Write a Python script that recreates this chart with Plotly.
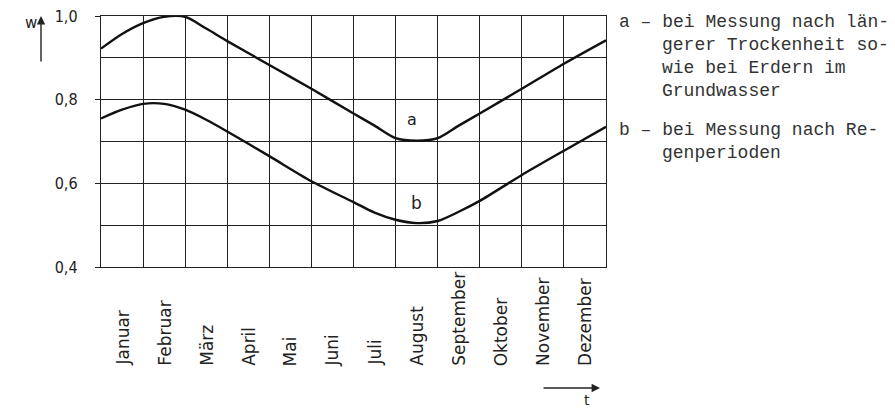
import plotly.graph_objects as go

# ---------------- data ----------------
months = ["Januar", "Februar", "März", "April", "Mai", "Juni", "Juli",
          "August", "September", "Oktober", "November", "Dezember"]

t_a = [0, 0.5, 1, 1.5, 2, 2.5, 3, 4, 5, 6, 6.5, 7, 7.5, 8, 8.5, 9, 10, 11, 12]
w_a = [0.922, 0.957, 0.983, 0.998, 0.998, 0.97, 0.94, 0.883, 0.826, 0.767,
       0.738, 0.708, 0.702, 0.708, 0.738, 0.767, 0.826, 0.886, 0.942]

t_b = [0, 0.5, 1, 1.5, 2, 2.5, 3, 4, 5, 6, 6.5, 7, 7.5, 8, 8.5, 9, 10, 11, 12]
w_b = [0.755, 0.776, 0.79, 0.79, 0.776, 0.752, 0.724, 0.665, 0.605, 0.555,
       0.53, 0.513, 0.505, 0.51, 0.532, 0.558, 0.62, 0.678, 0.735]

y_ticks = [0.4, 0.6, 0.8, 1.0]
y_ticktext = ["0,4", "0,6", "0,8", "1,0"]
y_minor = [0.5, 0.7, 0.9]

legend_a = ["a – bei Messung nach län-", "gerer Trockenheit so-",
            "wie bei Erdern im", "Grundwasser"]
legend_b = ["b – bei Messung nach Re-", "genperioden"]

# ---------------- layout helpers ----------------
W, H = 895, 411
OFF = 8                      # default page body margin of the html
PL, PT = 101, 16             # target plot-area left/top in screenshot pixels
PW, PH = 505, 251
L, T = PL - OFF, PT - OFF
R, B = W - L - PW, H - T - PH


def px(xp):
    return (xp - PL) / PW


def py(yp):
    return (PT + PH - yp) / PH


SANS = "Liberation Sans Narrow, DejaVu Sans Condensed, Roboto, sans-serif"
LAB = "DejaVu Sans, sans-serif"
MONO = "Liberation Mono, DejaVu Sans Mono, monospace"

fig = go.Figure()
fig.add_trace(go.Scatter(x=t_a, y=w_a, mode="lines",
                         line=dict(color="#111", width=2.4, shape="spline", smoothing=0.8),
                         hoverinfo="skip", showlegend=False, cliponaxis=False))
fig.add_trace(go.Scatter(x=t_b, y=w_b, mode="lines",
                         line=dict(color="#111", width=2.4, shape="spline", smoothing=0.8),
                         hoverinfo="skip", showlegend=False, cliponaxis=False))

annotations = []
# month labels (rotated, bottom aligned)
for i, m in enumerate(months):
    annotations.append(dict(x=i + 0.5, y=py(368), xref="x", yref="paper",
                            text=m, textangle=-90, showarrow=False,
                            xanchor="center", yanchor="bottom",
                            font=dict(family=LAB, size=17, color="#222")))
# curve labels
annotations.append(dict(x=7.4, y=0.752, xref="x", yref="y", text="a", showarrow=False,
                        xanchor="center", yanchor="middle",
                        font=dict(family=LAB, size=16, color="#222")))
annotations.append(dict(x=7.5, y=0.553, xref="x", yref="y", text="b", showarrow=False,
                        xanchor="center", yanchor="middle",
                        font=dict(family=LAB, size=17, color="#222")))
# axis letters and arrows
annotations.append(dict(x=px(31), y=py(23), xref="paper", yref="paper", text="w",
                        showarrow=False, xanchor="center", yanchor="middle",
                        font=dict(family=LAB, size=15, color="#222")))
annotations.append(dict(x=px(41), y=py(16), xref="paper", yref="paper", text="",
                        showarrow=True, ax=0, ay=47, arrowhead=2, arrowsize=1.2,
                        arrowwidth=1.4, arrowcolor="#222"))
annotations.append(dict(x=px(587), y=py(400), xref="paper", yref="paper", text="t",
                        showarrow=False, xanchor="center", yanchor="middle",
                        font=dict(family=LAB, size=14, color="#222")))
annotations.append(dict(x=px(600), y=py(388), xref="paper", yref="paper", text="",
                        showarrow=True, ax=-58, ay=0, arrowhead=2, arrowsize=1.2,
                        arrowwidth=1.4, arrowcolor="#222"))
# legend text (typewriter)
ya = [22, 45, 68, 91]
for k, line in enumerate(legend_a):
    annotations.append(dict(x=px(617 if k == 0 else 660), y=py(ya[k]), xref="paper", yref="paper",
                            text=line, showarrow=False, xanchor="left", yanchor="middle",
                            font=dict(family=MONO, size=18, color="#333")))
yb = [130, 153]
for k, line in enumerate(legend_b):
    annotations.append(dict(x=px(617 if k == 0 else 660), y=py(yb[k]), xref="paper", yref="paper",
                            text=line, showarrow=False, xanchor="left", yanchor="middle",
                            font=dict(family=MONO, size=18, color="#333")))

fig.update_layout(
    template="none",
    width=W, height=H,
    margin=dict(l=L, r=R, t=T, b=B, pad=0, autoexpand=False),
    paper_bgcolor="white", plot_bgcolor="white",
    showlegend=False,
    annotations=annotations,
    xaxis=dict(range=[0, 12], tickvals=list(range(13)), showticklabels=False,
               automargin=False,
               showgrid=True, gridcolor="#222", gridwidth=1.2, zeroline=False,
               showline=True, linecolor="#222", linewidth=1.4, mirror=True, ticks=""),
    yaxis=dict(range=[0.4, 1.0], tickvals=y_ticks, ticktext=y_ticktext,
               automargin=False, ticklabeloverflow="allow",
               ticks="outside", ticklen=5, tickcolor="#222", tickwidth=1.2,
               ticklabelstandoff=14,
               tickfont=dict(family=SANS, size=16, color="#222"),
               showgrid=True, gridcolor="#222", gridwidth=1.2, zeroline=False,
               showline=True, linecolor="#222", linewidth=1.4, mirror=True,
               minor=dict(tickvals=y_minor, showgrid=True, gridcolor="#222",
                          gridwidth=1.2, ticks="")),
)

fig.write_html("out.html")
